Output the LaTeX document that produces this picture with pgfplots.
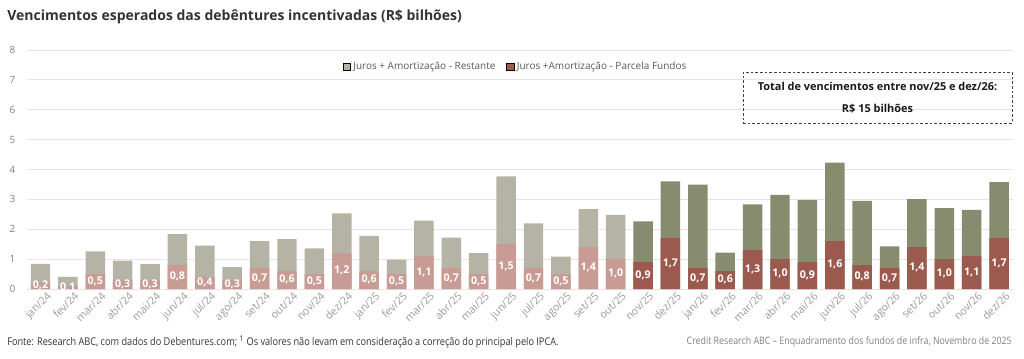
\documentclass[border=0pt]{standalone}
\usepackage{fontspec}
\setmainfont{Open Sans}
\newfontfamily\condfont{Open Sans}[FakeStretch=0.86]
\usepackage{pgfplots}
\usepackage{pgfplotstable}
\pgfplotsset{compat=1.18}
\definecolor{restL}{HTML}{B5B3A5}
\definecolor{restD}{HTML}{888C6E}
\definecolor{parcL}{HTML}{C99B95}
\definecolor{parcD}{HTML}{9C5A4F}
\definecolor{txtgray}{HTML}{808080}
\definecolor{ticklab}{HTML}{9A9A9A}
\definecolor{titlec}{HTML}{333333}

\pgfplotstableread{
x total parc
0 0.84 0.2
1 0.41 0.1
2 1.26 0.5
3 0.95 0.3
4 0.83 0.3
5 1.84 0.8
6 1.45 0.4
7 0.73 0.3
8 1.60 0.7
9 1.67 0.6
10 1.36 0.5
11 2.53 1.2
12 1.78 0.6
13 0.98 0.5
14 2.29 1.1
15 1.72 0.7
16 1.20 0.5
17 3.77 1.5
18 2.20 0.7
19 1.08 0.5
20 2.67 1.4
21 2.48 1.0
}\light
\pgfplotstableread{
x total parc
22 2.26 0.9
23 3.60 1.7
24 3.49 0.7
25 1.22 0.6
26 2.83 1.3
27 3.15 1.0
28 2.98 0.9
29 4.23 1.6
30 2.95 0.8
31 1.43 0.7
32 3.01 1.4
33 2.71 1.0
34 2.65 1.1
35 3.58 1.7
}\dark

\begin{document}
\begin{tikzpicture}
\path[use as bounding box] (0pt,0pt) rectangle (768pt,268.5pt);
\begin{axis}[
  at={(20.1pt,51.75pt)}, anchor=south west,
  scale only axis, width=739.5pt, height=179.25pt,
  xmin=-0.5, xmax=35.5, ymin=0, ymax=8,
  /pgf/number format/assume math mode=true,
  ytick={0,1,...,8},
  xtick={0,1,...,35},
  xticklabels={jan/24,fev/24,mar/24,abr/24,mai/24,jun/24,jul/24,ago/24,set/24,out/24,nov/24,dez/24,jan/25,fev/25,mar/25,abr/25,mai/25,jun/25,jul/25,ago/25,set/25,out/25,nov/25,dez/25,jan/26,fev/26,mar/26,abr/26,mai/26,jun/26,jul/26,ago/26,set/26,out/26,nov/26,dez/26},
  axis line style={draw=none},
  major tick length=0pt,
  ymajorgrids, grid style={draw=black!10, line width=0.7pt},
  yticklabel style={font=\fontsize{7.5pt}{9pt}\selectfont, text=txtgray, xshift=-5pt},
  xticklabel style={font=\fontsize{8pt}{9pt}\selectfont, text=ticklab, rotate=45, anchor=north east, inner sep=1pt, yshift=-3pt, xshift=3pt},
  legend style={at={(0.496,0.929)}, anchor=center, draw=none, fill=none,
    font=\fontsize{7.5pt}{9pt}\selectfont, text=black!65,
    /tikz/every even column/.append style={column sep=6pt}},
  legend columns=2,
  legend image code/.code={\fill[#1] (0pt,-2.8pt) rectangle (5.6pt,2.8pt);},
]
\addlegendimage{fill=restL}
\addlegendentry{Juros + Amortização - Restante}
\addlegendimage{fill=parcD}
\addlegendentry{Juros +Amortização - Parcela Fundos}

\addplot[ybar, bar width=14.6pt, bar shift=0pt, fill=restL, draw=none, forget plot] table[x=x,y=total]{\light};
\addplot[ybar, bar width=14.6pt, bar shift=0pt, fill=restD, draw=none, forget plot] table[x=x,y=total]{\dark};
\addplot[ybar, bar width=14.6pt, bar shift=0pt, fill=parcL, draw=none, forget plot] table[x=x,y=parc]{\light};
\addplot[ybar, bar width=14.6pt, bar shift=0pt, fill=parcD, draw=none, forget plot] table[x=x,y=parc]{\dark};

\addplot[draw=none, forget plot, point meta=explicit,
  nodes near coords={\pgfmathprintnumber[fixed,fixed zerofill,precision=1,use comma,assume math mode=true]{\pgfplotspointmeta}},
  every node near coord/.style={anchor=center, text=white, font=\bfseries\fontsize{8pt}{8pt}\selectfont}]
  table[x=x, y expr=\thisrow{parc}/2+0.02, meta=parc]{\light};
\addplot[draw=none, forget plot, point meta=explicit,
  nodes near coords={\pgfmathprintnumber[fixed,fixed zerofill,precision=1,use comma,assume math mode=true]{\pgfplotspointmeta}},
  every node near coord/.style={anchor=center, text=white, font=\bfseries\fontsize{8pt}{8pt}\selectfont}]
  table[x=x, y expr=\thisrow{parc}/2+0.02, meta=parc]{\dark};
\end{axis}

\begin{scope}[x=0.75pt,y=0.75pt]
\node[anchor=west, text=titlec, font=\bfseries\fontsize{10.5pt}{12pt}\selectfont, inner sep=0pt] at (7,341) {Vencimentos esperados das debêntures incentivadas (R\$ bilhões)};

\node[draw=black!75, dashed, dash pattern=on 2pt off 1.5pt, line width=0.6pt, minimum width=201.75pt, minimum height=38.25pt, inner sep=0pt] at (877.5,260.5) {};
\node[align=center, font=\bfseries\fontsize{8.2pt}{16.5pt}\selectfont, text=black!90] at (877.5,260.5) {Total de vencimentos entre nov/25 e dez/26:\\R\$ 15 bilhões};

\node[anchor=west, inner sep=0pt, text=black!80, font=\condfont\fontsize{8pt}{9pt}\selectfont] at (7,16) {Fonte: Research ABC, com dados do Debentures.com; \textsuperscript{1} Os valores não levam em consideração a correção do principal pelo IPCA.};
\node[anchor=east, inner sep=0pt, text=txtgray, font=\condfont\fontsize{7.7pt}{9pt}\selectfont] at (1012,16) {Credit Research ABC – Enquadramento dos fundos de infra, Novembro de 2025};
\end{scope}
\end{tikzpicture}
\end{document}
